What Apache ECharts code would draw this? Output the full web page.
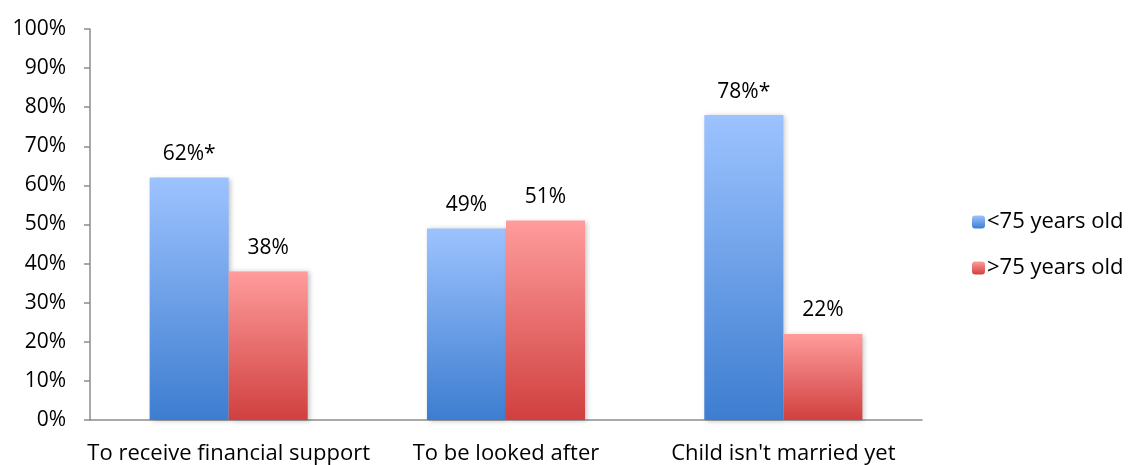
<!DOCTYPE html>
<html>
<head>
<meta charset="utf-8">
<script src="https://cdn.jsdelivr.net/npm/echarts@6/dist/echarts.min.js"></script>
<style>html,body{margin:0;padding:0;background:#fff}#c{width:1140px;height:465px}</style>
</head>
<body>
<div id="c"></div>
<script>
const categories = ["To receive financial support", "To be looked after", "Child isn't married yet"];
const seriesNames = ["<75 years old", ">75 years old"];
const under75 = [62, 49, 78];
const over75 = [38, 51, 22];
const under75Marks = ["*", "", "*"];
const over75Marks = ["", "", ""];
const yTicks = [0, 10, 20, 30, 40, 50, 60, 70, 80, 90, 100];

const FONT = "Open Sans";
const FS = 21;
const FS_CAT = 22;
function grad(top, bottom) {
  return new echarts.graphic.LinearGradient(0, 0, 0, 1, [
    {offset: 0, color: top}, {offset: 1, color: bottom}
  ]);
}
const chart = echarts.init(document.getElementById('c'));
chart.setOption({
  animation: false,
  textStyle: {fontFamily: FONT},
  grid: {left: 90, right: 218, top: 29, bottom: 45},
  legend: {
    orient: 'vertical', left: 967, top: 206,
    itemWidth: 13, itemHeight: 13, itemGap: 24,
    textStyle: {fontFamily: FONT, fontSize: FS_CAT, color: '#000', padding: [0,0,0,-3]},
    data: seriesNames
  },
  xAxis: {
    type: 'category', data: categories,
    axisLine: {lineStyle: {color: '#8c8c8c', width: 1.5}},
    axisTick: {length: 6, lineStyle: {color: '#8c8c8c', width: 1.5}},
    axisLabel: {fontFamily: FONT, fontSize: FS_CAT, color: '#000', margin: 23, interval: 0}
  },
  yAxis: {
    type: 'value', min: yTicks[0], max: yTicks[yTicks.length-1], interval: 10,
    splitLine: {show: false},
    axisLine: {show: true, lineStyle: {color: '#8c8c8c', width: 1.5}},
    axisTick: {show: true, length: 6, lineStyle: {color: '#8c8c8c', width: 1.5}},
    axisLabel: {fontFamily: FONT, fontSize: FS, color: '#000', margin: 24, formatter: v => v + '%'}
  },
  series: [
    {
      name: seriesNames[0], type: 'bar', data: under75,
      barGap: '0%', barCategoryGap: '43%',
      itemStyle: {color: grad('#9dc3ff', '#3d7dd0'), shadowBlur: 5, shadowOffsetX: 2, shadowOffsetY: 1, shadowColor: 'rgba(0,0,0,0.25)'},
      label: {show: true, position: 'top', distance: 13, fontFamily: FONT, fontSize: FS, color: '#000',
        formatter: p => p.value + '%' + under75Marks[p.dataIndex]}
    },
    {
      name: seriesNames[1], type: 'bar', data: over75,
      itemStyle: {color: grad('#ff9c9c', '#d0403f'), shadowBlur: 5, shadowOffsetX: 2, shadowOffsetY: 1, shadowColor: 'rgba(0,0,0,0.25)'},
      label: {show: true, position: 'top', distance: 13, fontFamily: FONT, fontSize: FS, color: '#000',
        formatter: p => p.value + '%' + over75Marks[p.dataIndex]}
    }
  ]
});
</script>
</body>
</html>
